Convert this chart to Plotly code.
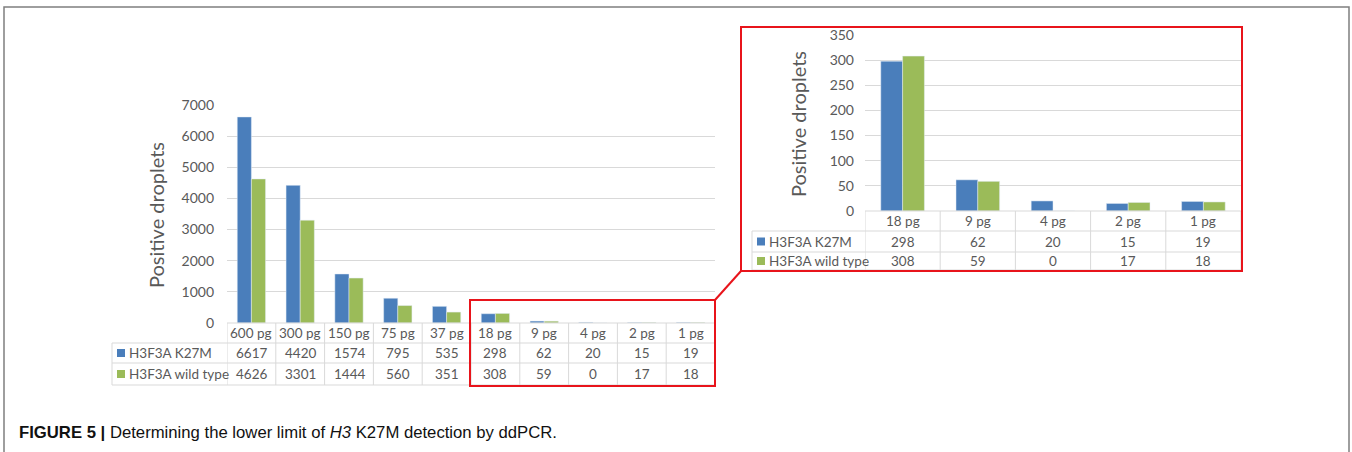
import plotly.graph_objects as go

# ---------------- data ----------------
categories = ["600 pg", "300 pg", "150 pg", "75 pg", "37 pg", "18 pg", "9 pg", "4 pg", "2 pg", "1 pg"]
k27m = [6617, 4420, 1574, 795, 535, 298, 62, 20, 15, 19]
wild_type = [4626, 3301, 1444, 560, 351, 308, 59, 0, 17, 18]
series_names = ["H3F3A K27M", "H3F3A wild type"]
inset_categories = categories[5:]
inset_k27m = k27m[5:]
inset_wild = wild_type[5:]
main_ticks = [0, 1000, 2000, 3000, 4000, 5000, 6000, 7000]
inset_ticks = [0, 50, 100, 150, 200, 250, 300, 350]
y_title = "Positive droplets"

# ---------------- styling ----------------
W, H = 1352, 452
BLUE = "#4a7ebb"
GREEN = "#9bbb59"
GRID = "#d9d9d9"
TXT = "#595959"
RED = "#e8141b"
FONT = "Lato, 'Open Sans', sans-serif"
CELL = 13.5


def px(x):
    return x / W


def py(y):
    return 1 - y / H


fig = go.Figure()
fig.add_trace(go.Bar(x=categories, y=k27m, name=series_names[0], marker_color=BLUE,
                     xaxis="x", yaxis="y", showlegend=False))
fig.add_trace(go.Bar(x=categories, y=wild_type, name=series_names[1], marker_color=GREEN,
                     xaxis="x", yaxis="y", showlegend=False))
fig.add_trace(go.Bar(x=inset_categories, y=inset_k27m, name=series_names[0], marker_color=BLUE,
                     xaxis="x2", yaxis="y2", showlegend=False))
fig.add_trace(go.Bar(x=inset_categories, y=inset_wild, name=series_names[1], marker_color=GREEN,
                     xaxis="x2", yaxis="y2", showlegend=False))

shapes = []
annotations = []


def note(x, y, text, xref="paper", size=CELL, xanchor="center", color=TXT, family=FONT, angle=0):
    annotations.append(dict(x=x, xref=xref, y=y, yref="paper", text=text, showarrow=False,
                            xanchor=xanchor, yanchor="middle", textangle=angle,
                            font=dict(family=family, size=size, color=color)))


def hline(x0, x1, y, xref="paper", color=GRID, width=1):
    shapes.append(dict(type="line", xref=xref, yref="paper", x0=x0, x1=x1,
                       y0=py(y), y1=py(y), line=dict(color=color, width=width)))


def build_table(cats, rows, xref, x_left_px, x_plot_px, x_right_px, y_rows):
    n = len(cats)
    t, h1, r1, r2 = y_rows
    hline(px(x_plot_px), px(x_right_px), t)
    for y in (h1, r1, r2):
        hline(px(x_left_px), px(x_right_px), y)
    for i in range(n + 1):
        shapes.append(dict(type="line", xref=xref, yref="paper", x0=i - 0.5, x1=i - 0.5,
                           y0=py(t), y1=py(r2), line=dict(color=GRID, width=1)))
    shapes.append(dict(type="line", xref="paper", yref="paper", x0=px(x_left_px), x1=px(x_left_px),
                       y0=py(h1), y1=py(r2), line=dict(color=GRID, width=1)))
    for c in cats:
        note(c, py((t + h1) / 2), c, xref=xref)
    bands = [(h1, r1), (r1, r2)]
    colors = [BLUE, GREEN]
    for (ya, yb), vals, name, col in zip(bands, rows, series_names, colors):
        yc = (ya + yb) / 2
        shapes.append(dict(type="rect", xref="paper", yref="paper",
                           x0=px(x_left_px + 5), x1=px(x_left_px + 13),
                           y0=py(yc + 4), y1=py(yc - 4), fillcolor=col, line=dict(width=0)))
        note(px(x_left_px + 15), py(yc), name, xanchor="left")
        for c, v in zip(cats, vals):
            note(c, py(yc), str(v), xref=xref)


build_table(categories, [k27m, wild_type], "x", 112, 227, 715, [323, 343, 363, 385])
build_table(inset_categories, [inset_k27m, inset_wild], "x2", 752, 865, 1241, [211, 231, 252, 270])

# y titles
note(px(156), py(215), y_title, size=20, angle=-90)
note(px(798), py(124), y_title, size=20, angle=-90)

# red boxes + connector
shapes.append(dict(type="rect", xref="paper", yref="paper", x0=px(470), x1=px(715), y0=py(386), y1=py(300),
                   line=dict(color=RED, width=2)))
shapes.append(dict(type="rect", xref="paper", yref="paper", x0=px(741), x1=px(1242), y0=py(271), y1=py(27),
                   line=dict(color=RED, width=2)))
shapes.append(dict(type="line", xref="paper", yref="paper", x0=px(715), x1=px(741), y0=py(300), y1=py(271),
                   line=dict(color=RED, width=2)))

# outer frame (open at the bottom)
shapes.append(dict(type="path", xref="paper", yref="paper",
                   path=f"M {px(4)} {py(470)} L {px(4)} {py(7)} L {px(1349)} {py(7)} L {px(1349)} {py(470)}",
                   line=dict(color="#7f7f7f", width=1.5)))

# caption
note(px(17), py(432),
     "<b>FIGURE 5 |</b> Determining the lower limit of <i>H3</i> K27M detection by ddPCR.",
     size=16.7, xanchor="left", color="#111111", family="'Liberation Sans', Arial, sans-serif")

axis_common = dict(showgrid=False, zeroline=False, showticklabels=False, fixedrange=True,
                   type="category", automargin=False)
fig.update_layout(
    width=W, height=H,
    margin=dict(l=0, r=0, t=0, b=0, pad=0),
    paper_bgcolor="white", plot_bgcolor="white",
    barmode="group", bargap=0.42, bargroupgap=0,
    xaxis=dict(domain=[px(227), px(715)], anchor="y", range=[-0.5, 9.5], **axis_common),
    yaxis=dict(domain=[py(323), py(105)], anchor="x", range=[0, 7000], tickvals=main_ticks,
               showgrid=True, gridcolor=GRID, zeroline=False, showline=False, ticks="",
               ticklabelstandoff=12, tickfont=dict(family=FONT, size=14, color=TXT),
               fixedrange=True, automargin=False),
    xaxis2=dict(domain=[px(865), px(1241)], anchor="y2", range=[-0.5, 4.5], **axis_common),
    yaxis2=dict(domain=[py(211), py(35)], anchor="x2", range=[0, 350], tickvals=inset_ticks,
                showgrid=True, gridcolor=GRID, zeroline=False, showline=False, ticks="",
                ticklabelstandoff=10, tickfont=dict(family=FONT, size=14, color=TXT),
                fixedrange=True, automargin=False),
    shapes=shapes,
    annotations=annotations,
)

fig.write_html("out.html", config={"displayModeBar": False},
               post_script="document.body.style.margin='0';document.body.style.overflow='hidden';")
